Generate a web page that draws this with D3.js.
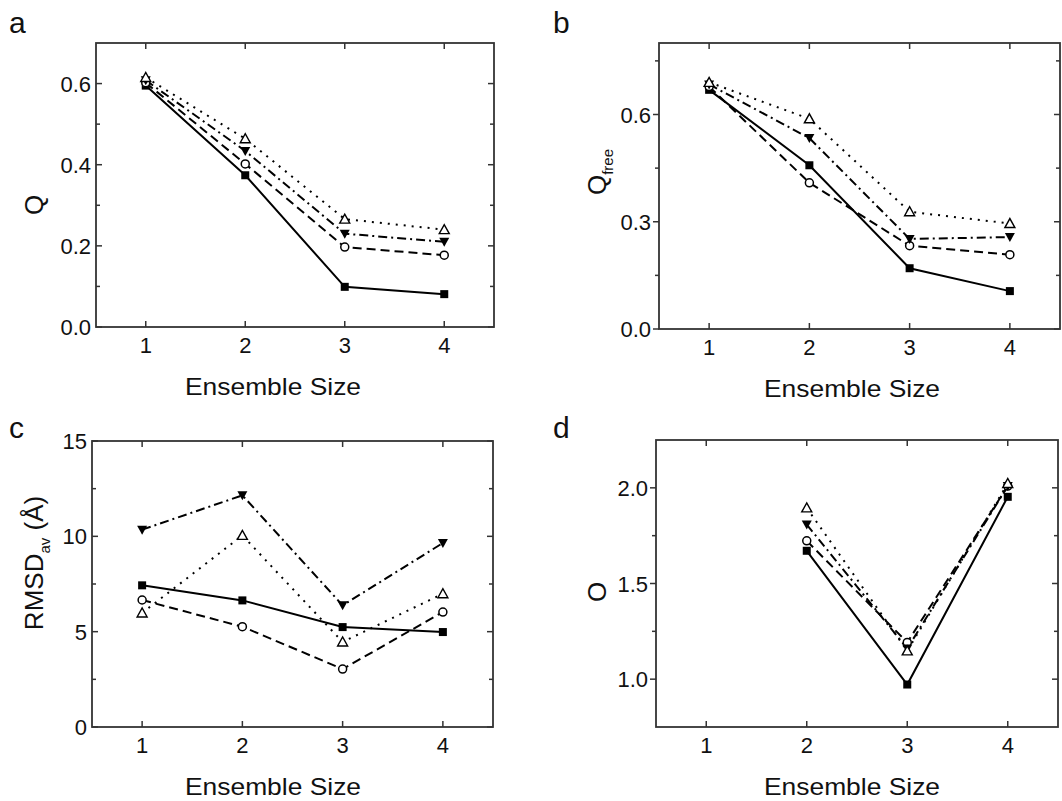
<!DOCTYPE html>
<html>
<head>
<meta charset="utf-8">
<script src="https://cdn.jsdelivr.net/npm/d3@7"></script>
<style>
  body { margin: 0; background: #fff; }
  text { font-family: 'Liberation Sans', Arial, sans-serif; fill: #111; }
</style>
</head>
<body>
<div id="chart"></div>
<script>
// ensemble sizes on the x axis
const sizes = [1, 2, 3, 4]

// panel a: Q
const qSquare = [0.595, 0.374, 0.099, 0.081]
const qCircle = [0.602, 0.402, 0.197, 0.177]
const qDown = [0.608, 0.434, 0.23, 0.21]
const qUp = [0.615, 0.464, 0.266, 0.24]

// panel b: Q free
const qfSquare = [0.669, 0.458, 0.17, 0.106]
const qfCircle = [0.678, 0.409, 0.233, 0.208]
const qfDown = [0.684, 0.534, 0.252, 0.257]
const qfUp = [0.69, 0.588, 0.328, 0.295]

// panel c: RMSD av
const rSquare = [7.43, 6.64, 5.24, 4.98]
const rCircle = [6.66, 5.26, 3.04, 6.03]
const rDown = [10.35, 12.15, 6.38, 9.65]
const rUp = [5.98, 10.05, 4.46, 6.99]

// panel d: O (no value for size 1)
const oSquare = [null, 1.671, 0.972, 1.953]
const oCircle = [null, 1.723, 1.192, 2.009]
const oDown = [null, 1.808, 1.16, 2.009]
const oUp = [null, 1.895, 1.148, 2.023]

// tick values
const qTicks = [0, 0.2, 0.4, 0.6]
const qMinor = [0.1, 0.3, 0.5]
const qfTicks = [0, 0.3, 0.6]
const qfMinor = [0.15, 0.45, 0.75]
const rTicks = [0, 5, 10, 15]
const rMinor = [2.5, 7.5, 12.5]
const oTicks = [1.0, 1.5, 2.0]
const oMinor = [1.25, 1.75]

const seriesStyles = [
  { marker: 'square', dash: null },
  { marker: 'circle', dash: '9,5' },
  { marker: 'down', dash: '9,4,2,4' },
  { marker: 'up', dash: '2,6' },
]

const panels = [
  {
    letter: 'a', box: [96, 494, 43, 327], letterPos: [9, 33], titleX: 273,
    domain: [0, 0.7], ticks: qTicks, minor: qMinor, fmt: d3.format('.1f'),
    series: [qSquare, qCircle, qDown, qUp], yLabel: ['Q'], yLabelPos: [34, 205],
    outLeft: false,
  },
  {
    letter: 'b', box: [659, 1060, 43, 329], letterPos: [553, 33], titleX: 852,
    domain: [0, 0.8], ticks: qfTicks, minor: qfMinor, fmt: d3.format('.1f'),
    series: [qfSquare, qfCircle, qfDown, qfUp], yLabel: ['Q', 'free'], yLabelPos: [597, 172],
    outLeft: true,
  },
  {
    letter: 'c', box: [92, 493, 441, 727], letterPos: [9, 438], titleX: 273,
    domain: [0, 15], ticks: rTicks, minor: rMinor, fmt: d3.format('d'),
    series: [rSquare, rCircle, rDown, rUp], yLabel: ['RMSD', 'av', ' (Å)'], yLabelPos: [34, 563],
    outLeft: false,
  },
  {
    letter: 'd', box: [656, 1058, 440, 727], letterPos: [553, 438], titleX: 852,
    domain: [0.75, 2.25], ticks: oTicks, minor: oMinor, fmt: d3.format('.1f'),
    series: [oSquare, oCircle, oDown, oUp], yLabel: ['O'], yLabelPos: [597, 592],
    outLeft: true,
  },
]

const svg = d3
  .select('#chart')
  .append('svg')
  .attr('width', 1062)
  .attr('height', 801)

const frameColor = '#333'

panels.forEach((p) => {
  const [x0, x1, y0, y1] = p.box
  const xScale = d3.scaleLinear().domain([0.5, 4.5]).range([x0, x1])
  const yScale = d3.scaleLinear().domain(p.domain).range([y1, y0])

  const g = svg.append('g')

  // panel letter
  svg
    .append('text')
    .attr('x', p.letterPos[0])
    .attr('y', p.letterPos[1])
    .style('font-size', '30px')
    .text(p.letter)

  // frame
  g.append('rect')
    .attr('x', x0)
    .attr('y', y0)
    .attr('width', x1 - x0)
    .attr('height', y1 - y0)
    .attr('fill', 'none')
    .attr('stroke', frameColor)
    .attr('stroke-width', 1.8)

  // x ticks on bottom and top (inward)
  sizes.forEach((s) => {
    const x = xScale(s)
    g.append('line').attr('x1', x).attr('x2', x).attr('y1', y1).attr('y2', y1 - 6)
      .attr('stroke', frameColor).attr('stroke-width', 1.5)
    g.append('line').attr('x1', x).attr('x2', x).attr('y1', y0).attr('y2', y0 + 6)
      .attr('stroke', frameColor).attr('stroke-width', 1.5)
    g.append('text')
      .attr('x', x)
      .attr('y', y1 + 26)
      .attr('text-anchor', 'middle')
      .style('font-size', '22px')
      .text(s)
  })

  // y ticks left and right
  const leftDir = p.outLeft ? -1 : 1
  p.ticks.concat(p.minor).forEach((t) => {
    const y = yScale(t)
    const len = p.ticks.includes(t) ? 6 : 4
    g.append('line').attr('x1', x0).attr('x2', x0 + leftDir * len).attr('y1', y).attr('y2', y)
      .attr('stroke', frameColor).attr('stroke-width', 1.5)
    g.append('line').attr('x1', x1).attr('x2', x1 - len).attr('y1', y).attr('y2', y)
      .attr('stroke', frameColor).attr('stroke-width', 1.5)
  })
  p.ticks.forEach((t) => {
    g.append('text')
      .attr('x', x0 - (p.outLeft ? 8 : 5))
      .attr('y', yScale(t) + 8)
      .attr('text-anchor', 'end')
      .style('font-size', '22px')
      .text(p.fmt(t))
  })

  // x axis title, stretched a little like the original
  g.append('text')
    .attr('x', p.titleX)
    .attr('y', y1 + 68)
    .attr('text-anchor', 'middle')
    .attr('textLength', 176)
    .attr('lengthAdjust', 'spacingAndGlyphs')
    .style('font-size', '24px')
    .text('Ensemble Size')

  // y axis title, rotated
  const yl = g
    .append('text')
    .attr('transform', `translate(${p.yLabelPos[0]}, ${p.yLabelPos[1]}) rotate(-90)`)
    .attr('text-anchor', 'middle')
    .attr('dy', '0.35em')
    .style('font-size', '26px')
  yl.append('tspan').text(p.yLabel[0])
  if (p.yLabel.length > 1) {
    yl.append('tspan').attr('dy', 7).style('font-size', '15px').text(p.yLabel[1])
  }
  if (p.yLabel.length > 2) {
    yl.append('tspan').attr('dy', -7).text(p.yLabel[2])
  }

  // lines
  p.series.forEach((values, i) => {
    const pts = sizes.map((s, k) => ({ x: s, y: values[k] })).filter((d) => d.y !== null)
    const line = d3
      .line()
      .x((d) => xScale(d.x))
      .y((d) => yScale(d.y))
    g.append('path')
      .datum(pts)
      .attr('d', line)
      .attr('fill', 'none')
      .attr('stroke', '#000')
      .attr('stroke-width', 2)
      .attr('stroke-dasharray', seriesStyles[i].dash)
  })

  // markers
  p.series.forEach((values, i) => {
    const pts = sizes.map((s, k) => ({ x: s, y: values[k] })).filter((d) => d.y !== null)
    const m = seriesStyles[i].marker
    const sel = g.selectAll(`.m${i}`).data(pts).join('g')
      .attr('transform', (d) => `translate(${xScale(d.x)}, ${yScale(d.y)})`)
    if (m === 'square') {
      sel.append('rect').attr('x', -4).attr('y', -4).attr('width', 8).attr('height', 8)
        .attr('fill', '#000')
    } else if (m === 'circle') {
      sel.append('circle').attr('r', 4).attr('fill', '#fff')
        .attr('stroke', '#000').attr('stroke-width', 1.5)
    } else if (m === 'down') {
      sel.append('path').attr('d', 'M-5,-4L5,-4L0,5Z').attr('fill', '#000')
    } else {
      sel.append('path').attr('d', 'M-5,4L5,4L0,-5Z').attr('fill', '#fff')
        .attr('stroke', '#000').attr('stroke-width', 1.4)
    }
  })
})
</script>
</body>
</html>
